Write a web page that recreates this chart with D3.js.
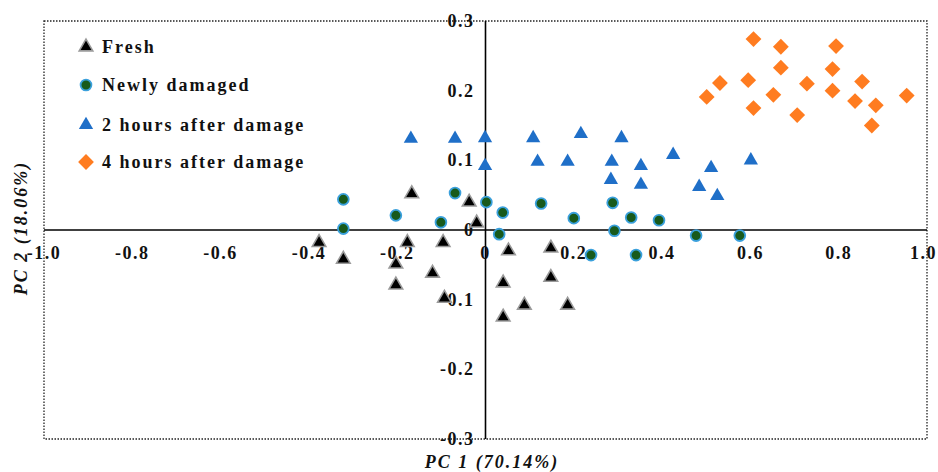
<!doctype html>
<html lang="en">
<head>
<meta charset="utf-8">
<title>PCA - damage</title>
<script src="https://cdn.jsdelivr.net/npm/d3@7/dist/d3.min.js"></script>
<style>
  body { margin: 0; background: #fff; }
  svg text { font-family: "Liberation Serif", "Times New Roman", serif; font-weight: bold; fill: #111; }
</style>
</head>
<body>
<svg id="chart" width="938" height="472"></svg>
<script>
// series names
var seriesNames = ["Fresh", "Newly damaged", "2 hours after damage", "4 hours after damage"];

// Fresh
var freshPC1 = [-0.167, -0.037, -0.020, -0.377, -0.322, -0.177, -0.096, -0.203, -0.203,
                -0.120, -0.093, 0.052, 0.148, 0.040, 0.148, 0.088, 0.186, 0.040];
var freshPC2 = [0.052, 0.040, 0.010, -0.018, -0.042, -0.018, -0.018, -0.049, -0.079,
                -0.062, -0.098, -0.030, -0.026, -0.076, -0.068, -0.108, -0.108, -0.125];

// Newly damaged
var newPC1 = [-0.322, -0.322, -0.203, -0.101, -0.069, 0.002, 0.039, 0.031, 0.126,
              0.200, 0.239, 0.288, 0.330, 0.292, 0.393, 0.477, 0.576, 0.341];
var newPC2 = [0.044, 0.002, 0.021, 0.011, 0.053, 0.040, 0.025, -0.006, 0.038,
              0.017, -0.036, 0.039, 0.018, -0.001, 0.014, -0.008, -0.008, -0.036];

// 2 hours after damage
var h2PC1 = [-0.169, -0.069, -0.001, 0.108, 0.216, 0.308, -0.001, 0.118, 0.186,
             0.286, 0.352, 0.425, 0.511, 0.601, 0.284, 0.352, 0.484, 0.525];
var h2PC2 = [0.131, 0.131, 0.132, 0.132, 0.138, 0.132, 0.092, 0.098, 0.098,
             0.098, 0.092, 0.108, 0.089, 0.100, 0.072, 0.065, 0.062, 0.049];

// 4 hours after damage
var h4PC1 = [0.607, 0.669, 0.794, 0.669, 0.786, 0.531, 0.595, 0.728, 0.853,
             0.501, 0.652, 0.786, 0.954, 0.837, 0.884, 0.607, 0.706, 0.875];
var h4PC2 = [0.274, 0.263, 0.264, 0.233, 0.231, 0.211, 0.215, 0.210, 0.213,
             0.191, 0.194, 0.200, 0.193, 0.185, 0.179, 0.175, 0.165, 0.150];

var xTicks = [-1.0, -0.8, -0.6, -0.4, -0.2, 0, 0.2, 0.4, 0.6, 0.8, 1.0];
var yTicks = [-0.3, -0.2, -0.1, 0, 0.1, 0.2, 0.3];

var svg = d3.select("#chart");

var x = d3.scaleLinear().domain([-1, 1]).range([44, 927]);
var y = d3.scaleLinear().domain([-0.3, 0.3]).range([439, 21]);

// plain hyphen instead of d3's unicode minus
function fmt(d) {
    return d === 0 ? "0" : d3.format(".1f")(d).replace("\u2212", "-");
}

// dotted frame
svg.append("rect")
    .attr("x", x(-1)).attr("y", y(0.3))
    .attr("width", x(1) - x(-1)).attr("height", y(-0.3) - y(0.3))
    .attr("fill", "none")
    .attr("stroke", "#222")
    .attr("stroke-width", 1.3)
    .attr("stroke-dasharray", "1.5,1.5");

// axes through origin
svg.append("line")
    .attr("x1", x(-1)).attr("x2", x(1))
    .attr("y1", y(0)).attr("y2", y(0))
    .attr("stroke", "#000").attr("stroke-width", 1.6);
svg.append("line")
    .attr("x1", x(0)).attr("x2", x(0))
    .attr("y1", y(0.3)).attr("y2", y(-0.3))
    .attr("stroke", "#000").attr("stroke-width", 1.6);

// tick labels
svg.append("g").selectAll("text")
    .data(xTicks)
    .enter().append("text")
    .attr("x", function (d) { return d === 1 ? 937 : x(d); })
    .attr("y", y(0) + 29)
    .attr("text-anchor", function (d) { return d === 1 ? "end" : "middle"; })
    .style("font-size", "18px")
    .style("letter-spacing", "1.5px")
    .text(fmt);

svg.append("g").selectAll("text")
    .data(yTicks)
    .enter().append("text")
    .attr("x", x(0) - 11)
    .attr("y", function (d) { return y(d) + 6; })
    .attr("text-anchor", "end")
    .style("font-size", "18px")
    .style("letter-spacing", "1.5px")
    .text(fmt);

// axis titles
svg.append("text")
    .attr("x", 492).attr("y", 468)
    .attr("text-anchor", "middle")
    .style("font-size", "18px")
    .style("font-style", "italic")
    .style("letter-spacing", "2px")
    .text("PC 1 (70.14%)");

svg.append("text")
    .attr("transform", "translate(27,228) rotate(-90)")
    .attr("text-anchor", "middle")
    .style("font-size", "18px")
    .style("font-style", "italic")
    .style("letter-spacing", "2px")
    .text("PC 2 (18.06%)");

// marker styles
var styles = [
    { sym: d3.symbolTriangle, size: 80, fill: "#000", stroke: "#9a9a9a", sw: 1.6, rot: 0 },
    { sym: d3.symbolCircle, size: 92, fill: "#185a1c", stroke: "#3aa0dc", sw: 1.8, rot: 0 },
    { sym: d3.symbolTriangle, size: 88, fill: "#1f6fc8", stroke: "none", sw: 0, rot: 0 },
    { sym: d3.symbolSquare, size: 125, fill: "#ff7c20", stroke: "none", sw: 0, rot: 45 }
];

var series = [
    d3.zip(freshPC1, freshPC2),
    d3.zip(newPC1, newPC2),
    d3.zip(h2PC1, h2PC2),
    d3.zip(h4PC1, h4PC2)
];

series.forEach(function (pts, i) {
    var s = styles[i];
    svg.append("g").selectAll("path")
        .data(pts)
        .enter().append("path")
        .attr("d", d3.symbol().type(s.sym).size(s.size))
        .attr("transform", function (d) {
            return "translate(" + x(d[0]) + "," + y(d[1]) + ") rotate(" + s.rot + ")";
        })
        .attr("fill", s.fill)
        .attr("stroke", s.stroke)
        .attr("stroke-width", s.sw);
});

// legend
var legendY = [47, 85, 125, 162];
var legend = svg.append("g");
seriesNames.forEach(function (name, i) {
    var s = styles[i];
    legend.append("path")
        .attr("d", d3.symbol().type(s.sym).size(s.size))
        .attr("transform", "translate(86," + legendY[i] + ") rotate(" + s.rot + ")")
        .attr("fill", s.fill)
        .attr("stroke", s.stroke)
        .attr("stroke-width", s.sw);
    legend.append("text")
        .attr("x", 102)
        .attr("y", legendY[i] + 6)
        .style("font-size", "18px")
        .style("letter-spacing", "2px")
        .text(name);
});
</script>
</body>
</html>
